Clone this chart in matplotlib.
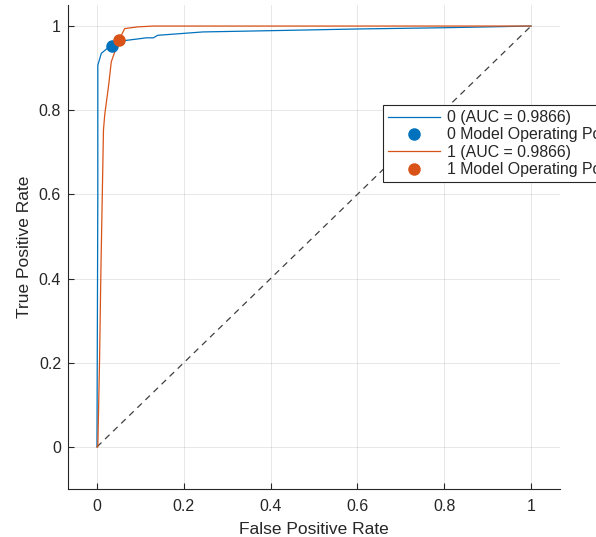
import matplotlib
matplotlib.use("Agg")
import matplotlib.pyplot as plt

# ROC data
fpr0 = [0.0, 0.002, 0.002, 0.010, 0.025, 0.035, 0.052, 0.099, 0.113, 0.130, 0.140, 0.244, 0.400, 0.600, 0.800, 1.0]
tpr0 = [0.0, 0.600, 0.907, 0.935, 0.948, 0.952, 0.964, 0.970, 0.972, 0.972, 0.978, 0.986, 0.989, 0.993, 0.996, 1.0]
fpr1 = [0.0, 0.002, 0.006, 0.009, 0.015, 0.018, 0.027, 0.033, 0.051, 0.064, 0.094, 0.130, 0.300, 1.0]
tpr1 = [0.0, 0.000, 0.207, 0.413, 0.753, 0.790, 0.860, 0.915, 0.968, 0.994, 0.998, 1.000, 1.000, 1.0]
op0 = (0.035, 0.952)
op1 = (0.051, 0.968)
labels = ["0 (AUC = 0.9866)", "0 Model Operating Point",
          "1 (AUC = 0.9866)", "1 Model Operating Point"]
xticks = [0, 0.2, 0.4, 0.6, 0.8, 1]
xticklabels = ["0", "0.2", "0.4", "0.6", "0.8", "1"]
yticks = [0, 0.2, 0.4, 0.6, 0.8, 1]
yticklabels = ["0", "0.2", "0.4", "0.6", "0.8", "1"]

plt.rcParams['font.family'] = ['Liberation Sans', 'DejaVu Sans']
blue = '#0072BD'
orange = '#D95319'
dark = '#262626'

fig = plt.figure(figsize=(5.96, 5.37), dpi=100)
ax = fig.add_axes([68/596, 1-489/537, 492/596, 484/537])

ax.plot([0, 1], [0, 1], linestyle=(0, (5, 4)), color='#404040', linewidth=0.9, zorder=1)
h0, = ax.plot(fpr0, tpr0, color=blue, linewidth=0.9, zorder=3)
m0, = ax.plot([op0[0]], [op0[1]], 'o', color=blue, markersize=8, zorder=4, linestyle='none')
h1, = ax.plot(fpr1, tpr1, color=orange, linewidth=0.9, zorder=3)
m1, = ax.plot([op1[0]], [op1[1]], 'o', color=orange, markersize=8, zorder=5, linestyle='none')

ax.set_xlim(-0.0667, 1.0667)
ax.set_ylim(-0.1, 1.05)
ax.set_xticks(xticks)
ax.set_xticklabels(xticklabels)
ax.set_yticks(yticks)
ax.set_yticklabels(yticklabels)
ax.grid(True, color='#262626', alpha=0.13, linewidth=0.6)
ax.set_axisbelow(True)
for s in ['top', 'right']:
    ax.spines[s].set_visible(False)
for s in ['left', 'bottom']:
    ax.spines[s].set_color(dark)
    ax.spines[s].set_linewidth(0.8)
ax.tick_params(direction='in', length=4, width=0.8, color=dark, labelcolor=dark,
               labelsize=11.5)
ax.tick_params(axis='x', pad=7)
ax.tick_params(axis='y', pad=5)
ax.set_xlabel("False Positive Rate", fontsize=12.5, color=dark, labelpad=6)
ax.set_ylabel("True Positive Rate", fontsize=12.5, color=dark, labelpad=5)

leg = ax.legend([h0, m0, h1, m1], labels, loc='upper left',
                bbox_to_anchor=(315/492, (489-105)/484), borderaxespad=0,
                fancybox=False, framealpha=1, edgecolor=dark, fontsize=11.4,
                handlelength=3.3, handletextpad=0.45, labelspacing=0.15,
                borderpad=0.32, numpoints=1)
leg.get_frame().set_linewidth(0.8)
for t in leg.get_texts():
    t.set_color(dark)

fig.savefig("out.png", dpi=100)
